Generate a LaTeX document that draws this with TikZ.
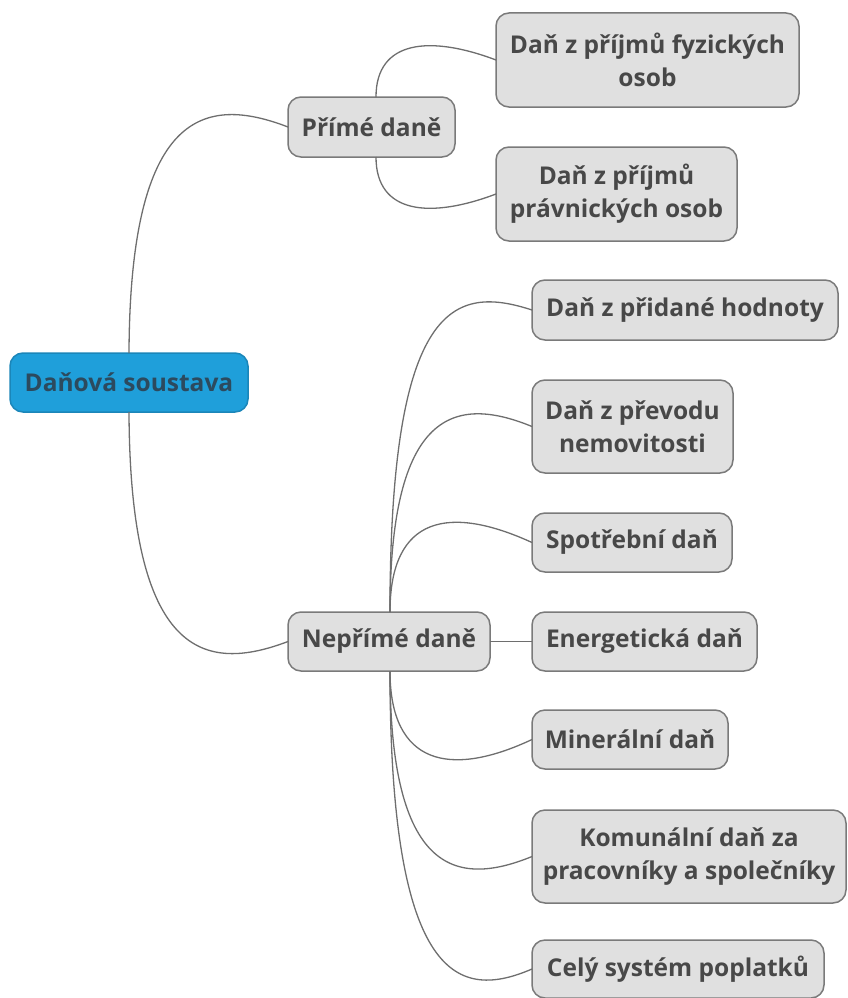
\documentclass[tikz,border=0pt]{standalone}
\usepackage{fontspec}
\setmainfont{Open Sans}
\definecolor{boxfill}{HTML}{E0E0E0}
\definecolor{boxdraw}{HTML}{7A7A7A}
\definecolor{boxtext}{HTML}{484848}
\definecolor{rootfill}{HTML}{1F9FDA}
\definecolor{rootdraw}{HTML}{1B86B9}
\definecolor{roottext}{HTML}{2C4A5E}
\definecolor{linkcol}{HTML}{6E6E6E}
\tikzset{
  topic/.style={draw=boxdraw, fill=boxfill, line width=1.5pt, rounded corners=13pt,
    text=boxtext, font=\fontsize{24.5}{33}\selectfont\bfseries, align=center,
    inner sep=0pt, outer sep=0pt},
  roottopic/.style={topic, draw=rootdraw, fill=rootfill, text=roottext},
  link/.style={draw=linkcol, line width=1.3pt}
}
\begin{document}
\begin{tikzpicture}[x=1pt,y=-1pt]
\useasboundingbox (0,0) rectangle (848,998);
\node[roottopic, minimum width=238pt, minimum height=59pt] (root) at (129,382.5) {Daňová soustava};
\node[topic, minimum width=167pt, minimum height=60pt] (prime) at (371.5,127) {Přímé daně};
\node[topic, minimum width=303pt, minimum height=94pt] (fo) at (647.5,60) {Daň z příjmů fyzických\\osob};
\node[topic, minimum width=241pt, minimum height=94pt] (po) at (616.5,194) {Daň z příjmů\\právnických osob};
\node[topic, minimum width=202pt, minimum height=59pt] (neprime) at (389,641.5) {Nepřímé daně};
\node[topic, minimum width=306pt, minimum height=60pt] (dph) at (685,310) {Daň z přidané hodnoty};
\node[topic, minimum width=201pt, minimum height=93pt] (prevod) at (632.5,426.5) {Daň z převodu\\nemovitosti};
\node[topic, minimum width=200pt, minimum height=59pt] (spotr) at (632,542.5) {Spotřební daň};
\node[topic, minimum width=225pt, minimum height=59pt] (energ) at (644.5,641.5) {Energetická daň};
\node[topic, minimum width=196pt, minimum height=59pt] (miner) at (630,739.5) {Minerální daň};
\node[topic, minimum width=314pt, minimum height=93pt] (komun) at (689,856.5) {Komunální daň za\\pracovníky a společníky};
\node[topic, minimum width=292pt, minimum height=58pt] (cely) at (678,969) {Celý systém poplatků};

\draw[link] (root.north) .. controls (130,110) and (205,95) .. (prime.west);
\draw[link] (root.south) .. controls (130,658) and (205,673) .. (neprime.west);

\draw[link] ([xshift=4.5pt]prime.north) .. controls (376,40) and (430,35) .. (fo.west);
\draw[link] ([xshift=4.5pt]prime.south) .. controls (376,214) and (430,219) .. (po.west);

\draw[link] ([xshift=1pt]neprime.north) .. controls (390,300) and (455,285) .. (dph.west);
\draw[link] ([xshift=1pt]neprime.north) .. controls (390,410) and (455,395) .. (prevod.west);
\draw[link] ([xshift=1pt]neprime.north) .. controls (390,515) and (450,505) .. (spotr.west);
\draw[link] (neprime.east) -- (energ.west);
\draw[link] ([xshift=1pt]neprime.south) .. controls (390,765) and (450,778) .. (miner.west);
\draw[link] ([xshift=1pt]neprime.south) .. controls (390,872) and (455,888) .. (komun.west);
\draw[link] ([xshift=1pt]neprime.south) .. controls (390,985) and (460,1000) .. (cely.west);
\end{tikzpicture}
\end{document}
